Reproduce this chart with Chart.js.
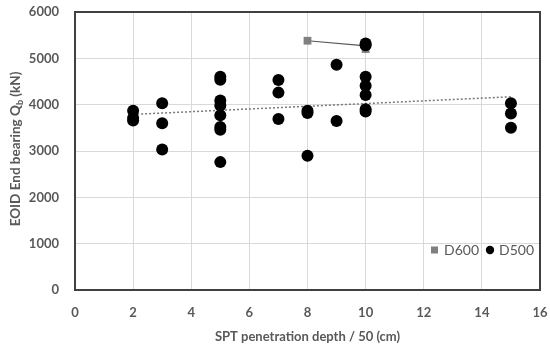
<!DOCTYPE html>
<html>
<head>
<meta charset="utf-8">
<script src="https://cdn.jsdelivr.net/npm/chart.js@4/dist/chart.umd.min.js"></script>
<style>
  html, body { margin: 0; padding: 0; background: #fff; }
  #wrap { width: 550px; height: 350px; }
</style>
</head>
<body>
<div id="wrap"><canvas id="chart" width="550" height="350"></canvas></div>
<script>
// D500 piles: penetration depth / 50 and end bearing (kN)
const d500X = [2, 2, 2, 3, 3, 3, 5, 5, 5, 5, 5, 5, 5, 5, 7, 7, 7, 8, 8, 8, 9, 9, 10, 10, 10, 10, 10, 10, 10, 15, 15, 15];
const d500Y = [3870, 3710, 3660, 4030, 3600, 3030, 4600, 4540, 4090, 3980, 3770, 3520, 3460, 2760,
  4530, 4260, 3690, 3870, 3820, 2900, 4860, 3650, 5320, 5280, 4600, 4410, 4210, 3900, 3850, 4030, 3810, 3500];

// D600 piles
const d600X = [8, 10, 10];
const d600Y = [5380, 5270, 5200];

// dotted trend line, end points
const trendX = [2, 15];
const trendY = [3790, 4170];

const xTicks = [0, 2, 4, 6, 8, 10, 12, 14, 16];
const yTicks = [0, 1000, 2000, 3000, 4000, 5000, 6000];

const toPoints = (xs, ys) => xs.map((x, i) => ({ x: x, y: ys[i] }));

const FONT = 'Lato, "Open Sans", sans-serif';
const TXT = '#595959';

// titles, legend and plot frame
const extras = {
  id: 'extras',
  afterDraw(chart) {
    const ctx = chart.ctx;
    const a = chart.chartArea;
    ctx.save();

    // frame (filled strips so it is always crisp)
    ctx.fillStyle = '#404040';
    const L = Math.round(a.left), R = Math.round(a.right), T = Math.round(a.top), B = Math.round(a.bottom);
    ctx.fillRect(L - 1, T - 1, R - L + 2, 2);
    ctx.fillRect(L - 1, B - 1, R - L + 2, 2);
    ctx.fillRect(L - 1, T - 1, 2, B - T + 2);
    ctx.fillRect(R - 1, T - 1, 2, B - T + 2);

    ctx.fillStyle = TXT;
    // x title
    ctx.font = 'bold 13px ' + FONT;
    ctx.textAlign = 'center';
    ctx.textBaseline = 'middle';
    ctx.fillText('SPT penetration depth / 50 (cm)', (a.left + a.right) / 2, 337);

    // y title with subscript
    ctx.translate(16, 149);
    ctx.rotate(-Math.PI / 2);
    const p1 = 'EOID End bearing Q', p2 = 'b', p3 = ' (kN)';
    ctx.font = 'bold 13.5px ' + FONT;
    const w1 = ctx.measureText(p1).width, w3 = ctx.measureText(p3).width;
    ctx.font = 'bold 9px ' + FONT;
    const w2 = ctx.measureText(p2).width;
    let x = -(w1 + w2 + w3) / 2;
    ctx.textAlign = 'left';
    ctx.font = 'bold 13.5px ' + FONT;
    ctx.fillText(p1, x, 0);
    x += w1;
    ctx.font = 'bold 9px ' + FONT;
    ctx.fillText(p2, x, 4);
    x += w2;
    ctx.font = 'bold 13.5px ' + FONT;
    ctx.fillText(p3, x, 0);
    ctx.restore();

    // legend inside the plot, bottom right
    ctx.save();
    const ly = a.bottom - 40;
    ctx.font = '14px ' + FONT;
    ctx.textBaseline = 'middle';
    ctx.textAlign = 'left';
    ctx.fillStyle = '#808080';
    ctx.fillRect(431, ly - 3.5, 7, 7);
    ctx.fillStyle = TXT;
    ctx.fillText('D600', 444, ly);
    ctx.fillStyle = '#000';
    ctx.beginPath();
    ctx.arc(490, ly, 4.2, 0, Math.PI * 2);
    ctx.fill();
    ctx.fillStyle = TXT;
    ctx.fillText('D500', 499, ly);
    ctx.restore();
  }
};

new Chart(document.getElementById('chart'), {
  type: 'scatter',
  data: {
    datasets: [
      {
        label: 'D500',
        data: toPoints(d500X, d500Y),
        pointStyle: 'circle',
        pointRadius: 6,
        backgroundColor: '#000',
        borderColor: '#000',
        borderWidth: 0,
        order: 0
      },
      {
        label: 'D600',
        data: toPoints(d600X, d600Y),
        showLine: true,
        pointStyle: 'rect',
        pointRadius: 5.5,
        backgroundColor: '#808080',
        pointBorderWidth: 0,
        borderColor: '#595959',
        borderWidth: 1.2,
        order: 1
      },
      {
        label: 'trend',
        data: toPoints(trendX, trendY),
        showLine: true,
        pointRadius: 0,
        borderColor: '#7a7a7a',
        borderWidth: 1.5,
        borderDash: [2, 2],
        order: 2
      }
    ]
  },
  options: {
    responsive: false,
    animation: false,
    layout: { padding: { left: 0, top: 12, right: 10, bottom: 0 } },
    plugins: {
      legend: { display: false },
      tooltip: { enabled: false }
    },
    scales: {
      x: {
        type: 'linear',
        min: xTicks[0],
        max: xTicks[xTicks.length - 1],
        afterBuildTicks: (s) => { s.ticks = xTicks.map(v => ({ value: v })); },
        afterFit: (s) => { s.height = 60; s.paddingLeft = 0; s.paddingRight = 0; },
        grid: { color: '#d9d9d9', drawTicks: false },
        border: { display: false },
        ticks: { color: TXT, padding: 15, callback: (v) => String(v), font: { family: FONT, size: 13, weight: 'bold' } }
      },
      y: {
        type: 'linear',
        min: yTicks[0],
        max: yTicks[yTicks.length - 1],
        afterBuildTicks: (s) => { s.ticks = yTicks.map(v => ({ value: v })); },
        afterFit: (s) => { s.width = 75; s.paddingTop = 0; s.paddingBottom = 0; },
        grid: { color: '#d9d9d9', drawTicks: false },
        border: { display: false },
        ticks: { color: TXT, padding: 16, callback: (v) => String(v), font: { family: FONT, size: 13, weight: 'bold' } }
      }
    }
  },
  plugins: [extras]
});
</script>
</body>
</html>
